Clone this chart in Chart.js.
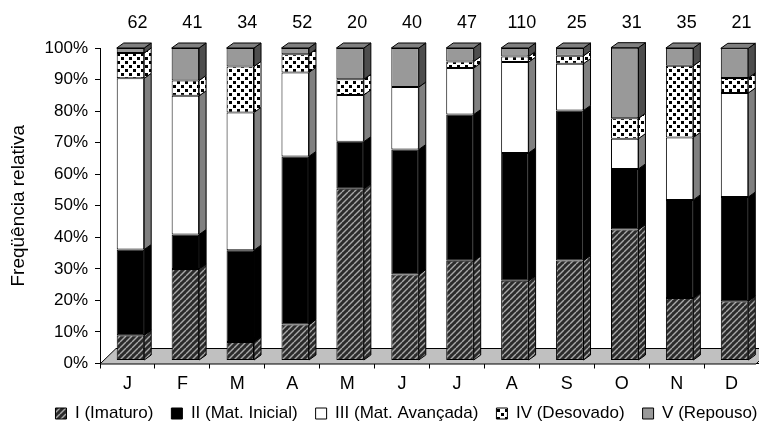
<!DOCTYPE html>
<html>
<head>
<meta charset="utf-8">
<script src="https://cdn.jsdelivr.net/npm/chart.js@4"></script>
<style>
  html, body { margin: 0; padding: 0; background: #fff; }
  #wrap { width: 759px; height: 428px; }
</style>
</head>
<body>
<div id="wrap"><canvas id="myChart" width="759" height="428"></canvas></div>
<script>
const months = ['J', 'F', 'M', 'A', 'M', 'J', 'J', 'A', 'S', 'O', 'N', 'D'];
const sampleSizes = ['62', '41', '34', '52', '20', '40', '47', '110', '25', '31', '35', '21'];
const stageNames = ['I (Imaturo)', 'II (Mat. Inicial)', 'III (Mat. Avançada)', 'IV (Desovado)', 'V (Repouso)'];

// relative frequency (%) of each stage per month
const imaturo   = [8.1, 29.3, 5.9, 11.5, 55.0, 27.5, 31.9, 25.5, 32.0, 41.9, 20.0, 19.0];
const matInicial = [27.4, 11.0, 29.4, 53.8, 15.0, 40.0, 46.8, 40.9, 48.0, 19.4, 31.4, 33.3];
const matAvancada = [54.8, 44.4, 44.1, 26.9, 15.0, 20.0, 14.9, 29.1, 15.0, 9.7, 20.0, 33.3];
const desovado  = [8.1, 4.9, 14.7, 5.8, 5.0, 0, 2.1, 1.8, 2.5, 6.5, 22.9, 4.8];
const repouso   = [1.6, 10.4, 5.9, 2.0, 10.0, 12.5, 4.3, 2.7, 2.5, 22.6, 5.7, 9.5];

const yTicks = [0, 10, 20, 30, 40, 50, 60, 70, 80, 90, 100];

function makePattern(w, h, draw) {
  const c = document.createElement('canvas');
  c.width = w; c.height = h;
  const g = c.getContext('2d');
  draw(g);
  return document.getElementById('myChart').getContext('2d').createPattern(c, 'repeat');
}

const hatch = makePattern(6, 6, g => {
  g.fillStyle = '#2b2b2b';
  g.fillRect(0, 0, 6, 6);
  g.strokeStyle = '#a8a8a8';
  g.lineWidth = 1.4;
  [-6, 0, 6].forEach(o => {
    g.beginPath();
    g.moveTo(o, 6);
    g.lineTo(o + 6, 0);
    g.stroke();
  });
});

const dots = makePattern(8, 8, g => {
  g.fillStyle = '#fff';
  g.fillRect(0, 0, 8, 8);
  g.fillStyle = '#000';
  g.fillRect(1, 1, 3, 3);
  g.fillRect(5, 5, 3, 3);
});

const fronts = [hatch, '#000000', '#ffffff', dots, '#999999'];
const sides = [hatch, '#000000', '#808080', dots, '#4d4d4d'];
const series = [imaturo, matInicial, matAvancada, desovado, repouso];

// fake 3D: floor under the bars, side and top faces after them
const depth = { dx: 7, dy: 5 };
const box3d = {
  id: 'box3d',
  afterDatasetsUpdate(chart) {
    // front faces sit a little right of / above the axis line
    const top = chart.chartArea.top;
    const k = (chart.chartArea.bottom - 3 - top) / (chart.chartArea.bottom - top);
    chart.data.datasets.forEach((ds, i) => {
      chart.getDatasetMeta(i).data.forEach(el => {
        el.x += 3;
        el.y = top + (el.y - top) * k;
        el.base = top + (el.base - top) * k;
      });
    });
  },
  afterLayout(chart) {
    const l = chart.legend;
    l.left += 27; l.right += 27;
    l.top += 4; l.bottom += 4;
    // let the month labels run below the (shortened) axis box
    chart.scales.x.bottom = chart.scales.x.top + 40;
  },
  beforeDatasetsDraw(chart) {
    const ctx = chart.ctx;
    const a = chart.chartArea;
    const yb = chart.scales.y.getPixelForValue(0);
    ctx.save();
    ctx.beginPath();
    ctx.moveTo(a.left, yb + 0.5);
    ctx.lineTo(a.right - 3, yb + 0.5);
    ctx.lineTo(a.right + 13, yb - 15);
    ctx.lineTo(a.left + 16, yb - 15);
    ctx.closePath();
    ctx.fillStyle = '#c0c0c0';
    ctx.fill();
    ctx.strokeStyle = '#000';
    ctx.lineWidth = 1;
    ctx.stroke();
    ctx.restore();
  },
  afterDatasetsDraw(chart) {
    const ctx = chart.ctx;
    const n = chart.data.labels.length;
    ctx.save();
    ctx.strokeStyle = '#000';
    ctx.lineWidth = 1;
    for (let j = 0; j < n; j++) {
      let topEl = null;
      chart.data.datasets.forEach((ds, i) => {
        const el = chart.getDatasetMeta(i).data[j];
        if (!el) return;
        const top = Math.min(el.y, el.base);
        const bottom = Math.max(el.y, el.base);
        if (bottom - top < 0.5) return;
        const right = el.x + el.width / 2;
        ctx.beginPath();
        ctx.moveTo(right, top);
        ctx.lineTo(right + depth.dx, top - depth.dy);
        ctx.lineTo(right + depth.dx, bottom - depth.dy);
        ctx.lineTo(right, bottom);
        ctx.closePath();
        ctx.fillStyle = sides[i];
        ctx.fill();
        ctx.stroke();
        topEl = el;
      });
      if (topEl) {
        const top = Math.min(topEl.y, topEl.base);
        const left = topEl.x - topEl.width / 2;
        const right = topEl.x + topEl.width / 2;
        ctx.beginPath();
        ctx.moveTo(left, top);
        ctx.lineTo(left + depth.dx, top - depth.dy);
        ctx.lineTo(right + depth.dx, top - depth.dy);
        ctx.lineTo(right, top);
        ctx.closePath();
        ctx.fillStyle = '#808080';
        ctx.fill();
        ctx.stroke();
      }
    }
    ctx.restore();
  }
};

const data = {
  labels: months,
  datasets: series.map((vals, i) => ({
    label: stageNames[i],
    data: vals,
    backgroundColor: fronts[i],
    borderColor: '#000',
    borderWidth: 1,
    borderSkipped: false,
    categoryPercentage: 1,
    barPercentage: 0.5
  }))
};

const font = 'Liberation Sans, Arial, sans-serif';

const config = {
  type: 'bar',
  data: data,
  plugins: [box3d],
  options: {
    responsive: false,
    animation: false,
    layout: { padding: 0 },
    scales: {
      x: {
        stacked: true,
        grid: { display: true, drawOnChartArea: false, color: '#000', tickLength: 5, offset: true },
        border: { display: true, color: '#000' },
        ticks: { color: '#000', font: { family: font, size: 18 }, padding: 5, maxRotation: 0 },
        afterFit(s) { s.height = 19.5; }
      },
      x2: {
        type: 'category',
        position: 'top',
        labels: sampleSizes,
        offset: true,
        grid: { display: false, drawTicks: false },
        border: { display: false },
        ticks: { color: '#000', font: { family: font, size: 18 }, padding: 14, labelOffset: 10, maxRotation: 0 },
        afterFit(s) { s.height = 48; }
      },
      y: {
        stacked: true,
        min: 0,
        max: 100,
        grid: { display: true, drawOnChartArea: false, color: '#000', tickLength: 5 },
        border: { display: true, color: '#000' },
        afterBuildTicks(s) { s.ticks = yTicks.map(v => ({ value: v })); },
        ticks: {
          color: '#000',
          font: { family: font, size: 17 },
          padding: 7,
          callback: v => v + '%'
        },
        title: {
          display: true,
          text: 'Freqüência relativa',
          color: '#000',
          font: { family: font, size: 19 },
          padding: { top: 7, bottom: 0 }
        },
        afterFit(s) { s.width = 100; }
      }
    },
    plugins: {
      legend: {
        position: 'bottom',
        align: 'center',
        labels: {
          color: '#000',
          font: { family: font, size: 17 },
          boxWidth: 11,
          boxHeight: 11,
          padding: 18
        }
      },
      tooltip: { enabled: false }
    }
  }
};

var ctx = document.getElementById('myChart');
var myChart = new Chart(ctx, config);
</script>
</body>
</html>
